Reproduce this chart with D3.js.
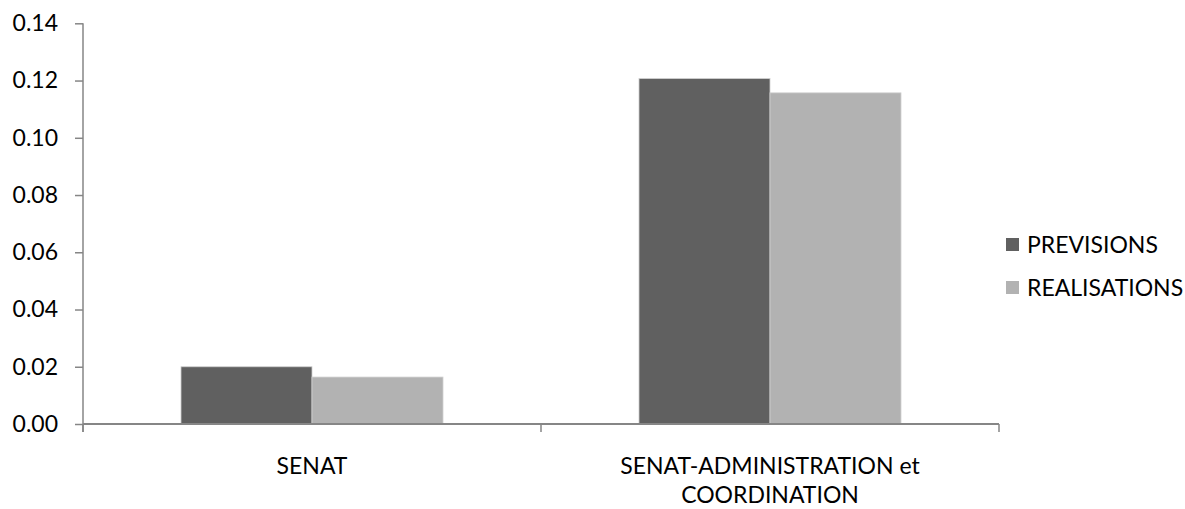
<!DOCTYPE html>
<html>
<head>
<meta charset="utf-8">
<script src="https://cdn.jsdelivr.net/npm/d3@7"></script>
<style>
  body { margin: 0; background: #fff; }
  .chart text { font-family: Lato, "Open Sans", sans-serif; fill: #000; }
</style>
</head>
<body>
<div class="bar-chart"></div>
<script>
// chart data
var categories = ["SENAT", "SENAT-ADMINISTRATION et COORDINATION"];
var series = ["PREVISIONS", "REALISATIONS"];
var previsions = [0.0200, 0.1207];
var realisations = [0.0164, 0.1157];
var yTicks = [0, 0.02, 0.04, 0.06, 0.08, 0.10, 0.12, 0.14];

var colors = {PREVISIONS: "#606060", REALISATIONS: "#b2b2b2"};

var viewbox_width = 1185,
    viewbox_height = 509,
    plot = {left: 83, right: 999, top: 23.3, bottom: 424},
    font_size = 23;

var svg = d3.select(".bar-chart")
  .append("svg")
    .attr("class", "chart")
    .attr("width", viewbox_width)
    .attr("height", viewbox_height);

// scales
var x0 = d3.scaleBand()
    .domain(categories)
    .range([plot.left, plot.right])
    .padding(0);

var x1 = d3.scaleBand()
    .domain(series)
    .range([0, x0.bandwidth()])
    .paddingInner(0)
    .paddingOuter(0.748);

var y = d3.scaleLinear()
    .domain([0, 0.14])
    .range([plot.bottom, plot.top]);

// rows for the bars
var rows = categories.map(function(c, i) {
    return {cat: c, values: [
        {key: "PREVISIONS", value: previsions[i]},
        {key: "REALISATIONS", value: realisations[i]}
    ]};
});

// bars
var groups = svg.append("g").selectAll("g")
    .data(rows)
  .enter().append("g")
    .attr("transform", function(d) { return "translate(" + x0(d.cat) + ",0)"; });

groups.selectAll("rect")
    .data(function(d) { return d.values; })
  .enter().append("rect")
    .attr("x", function(d) { return x1(d.key); })
    .attr("y", function(d) { return y(d.value); })
    .attr("width", x1.bandwidth())
    .attr("height", function(d) { return y(0) - y(d.value); })
    .attr("fill", function(d) { return colors[d.key]; })
    .attr("stroke", "#d0d0d0")
    .attr("stroke-width", 0.8);

// y axis
var yAxis = d3.axisLeft(y)
    .tickValues(yTicks)
    .tickFormat(d3.format(".2f"))
    .tickSize(8)
    .tickSizeOuter(0)
    .tickPadding(17);

var yaxisg = svg.append("g")
    .attr("transform", "translate(" + plot.left + ",0)")
    .call(yAxis);

yaxisg.selectAll("path, line").attr("stroke", "#868686").attr("stroke-width", 1.5);
yaxisg.selectAll("text").style("font-size", font_size + "px");
// extend vertical axis down to meet the x ticks
yaxisg.select(".domain").attr("d", "M0," + y(0.14) + "V" + (plot.bottom + 8));

// x axis line and boundary ticks
var xaxisg = svg.append("g").attr("class", "x-axis");
xaxisg.append("line")
    .attr("x1", plot.left).attr("x2", plot.right)
    .attr("y1", y(0)).attr("y2", y(0))
    .attr("stroke", "#868686").attr("stroke-width", 2);

var edges = categories.map(function(c) { return x0(c); })
    .concat([x0(categories[categories.length - 1]) + x0.bandwidth()]);

xaxisg.selectAll(".edge")
    .data(edges)
  .enter().append("line")
    .attr("class", "edge")
    .attr("x1", function(d) { return d; }).attr("x2", function(d) { return d; })
    .attr("y1", y(0)).attr("y2", y(0) + 8)
    .attr("stroke", "#868686").attr("stroke-width", 1.5);

// category labels, wrapped like excel does
function wrap_lines(text, maxw) {
    var words = text.split(" "), lines = [], cur = "";
    var probe = svg.append("text").style("font-size", font_size + "px");
    words.forEach(function(w) {
        var t = cur ? cur + " " + w : w;
        probe.text(t);
        if (probe.node().getComputedTextLength() > maxw && cur) {
            lines.push(cur);
            cur = w;
        } else {
            cur = t;
        }
    });
    lines.push(cur);
    probe.remove();
    return lines;
}

var labels = xaxisg.selectAll(".cat-label")
    .data(categories)
  .enter().append("text")
    .attr("class", "cat-label")
    .attr("text-anchor", "middle")
    .style("font-size", font_size + "px");

labels.each(function(c) {
    var lines = wrap_lines(c, 340);
    var t = d3.select(this);
    lines.forEach(function(l, i) {
        t.append("tspan")
            .attr("x", x0(c) + x0.bandwidth() / 2)
            .attr("y", 466 + i * 29)
            .attr("dy", "0.35em")
            .text(l);
    });
});

// legend
var legend = svg.append("g")
    .attr("transform", "translate(1006,0)");

var legendRows = legend.selectAll("g")
    .data(series)
  .enter().append("g")
    .attr("transform", function(d, i) { return "translate(0," + (244.5 + i * 43) + ")"; });

legendRows.append("rect")
    .attr("x", 0).attr("y", -6.5)
    .attr("width", 13).attr("height", 13)
    .attr("fill", function(d) { return colors[d]; });

legendRows.append("text")
    .attr("x", 21)
    .attr("dy", "0.35em")
    .style("font-size", font_size + "px")
    .text(function(d) { return d; });
</script>
</body>
</html>
